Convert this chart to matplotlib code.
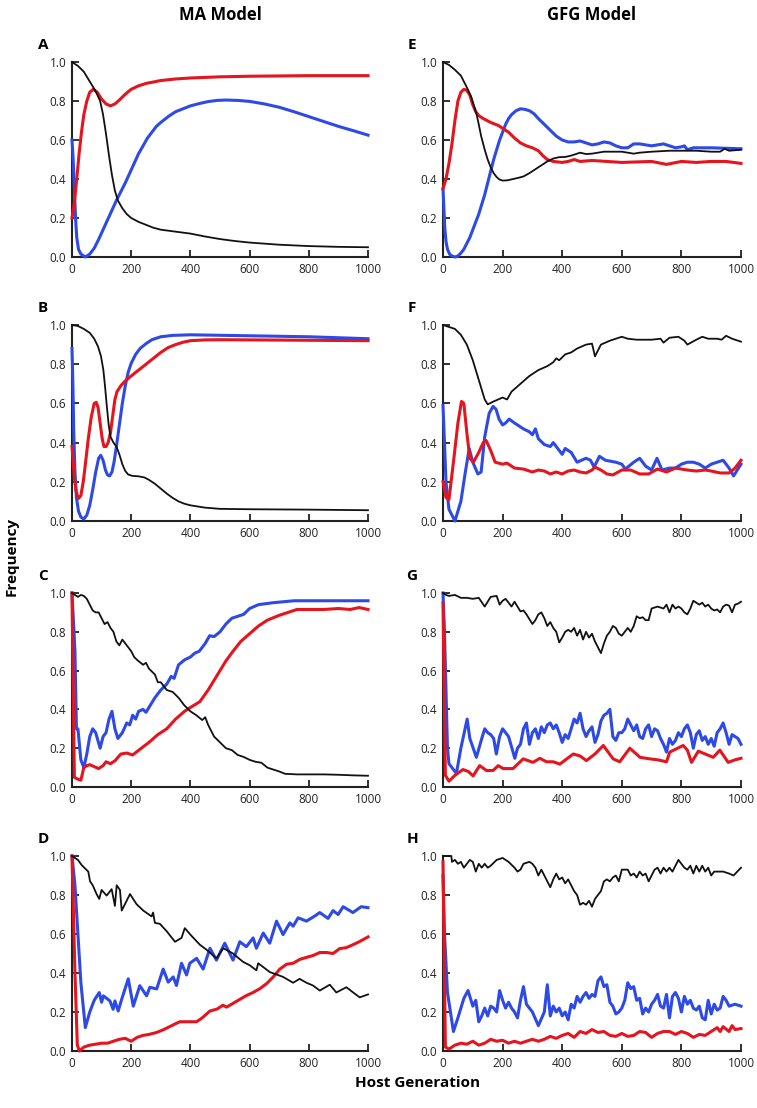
import numpy as np
import matplotlib
matplotlib.use("Agg")
import matplotlib.pyplot as plt

plt.rcParams['font.family'] = ['Open Sans', 'DejaVu Sans']

RED = '#e5141d'
BLUE = '#2e4ae6'
BLACK = '#111111'

# ---- data: (host generation, frequency) ----
# A  MA model
a_black = [(0, 1.0), (20, 0.98), (40, 0.95), (60, 0.9), (80, 0.85), (95, 0.8), (105, 0.73), (115, 0.63),
           (125, 0.52), (135, 0.42), (145, 0.34), (155, 0.29), (170, 0.25), (185, 0.22), (200, 0.2),
           (225, 0.18), (250, 0.165), (275, 0.15), (300, 0.14), (350, 0.13), (400, 0.12), (450, 0.105),
           (500, 0.092), (550, 0.082), (600, 0.074), (700, 0.063), (800, 0.056), (900, 0.052), (1000, 0.05)]
a_red = [(0, 0.2), (8, 0.28), (16, 0.4), (24, 0.53), (32, 0.64), (40, 0.73), (50, 0.8), (60, 0.845),
         (72, 0.86), (85, 0.845), (100, 0.81), (115, 0.785), (130, 0.775), (145, 0.785), (160, 0.805),
         (180, 0.835), (200, 0.86), (225, 0.878), (250, 0.89), (300, 0.905), (350, 0.913), (400, 0.918),
         (500, 0.924), (600, 0.927), (800, 0.93), (1000, 0.93)]
a_blue = [(0, 0.6), (4, 0.5), (8, 0.35), (12, 0.2), (16, 0.1), (22, 0.04), (30, 0.015), (45, 0.0),
          (60, 0.015), (75, 0.045), (90, 0.09), (105, 0.14), (120, 0.19), (135, 0.24), (150, 0.29),
          (165, 0.335), (180, 0.38), (195, 0.43), (210, 0.48), (225, 0.53), (240, 0.57), (255, 0.61),
          (270, 0.64), (285, 0.67), (300, 0.69), (325, 0.72), (350, 0.745), (375, 0.76), (400, 0.775),
          (430, 0.787), (460, 0.797), (490, 0.803), (520, 0.805), (560, 0.803), (600, 0.798), (650, 0.785),
          (700, 0.768), (750, 0.745), (800, 0.72), (850, 0.695), (900, 0.67), (950, 0.648), (1000, 0.625)]

# B  MA model
b_black = [(0, 1.0), (20, 0.995), (40, 0.98), (60, 0.96), (75, 0.93), (88, 0.89), (98, 0.84), (106, 0.77),
           (112, 0.68), (118, 0.58), (124, 0.49), (130, 0.43), (140, 0.4), (150, 0.38), (160, 0.34),
           (170, 0.29), (180, 0.255), (190, 0.237), (205, 0.23), (225, 0.228), (245, 0.222), (260, 0.21),
           (280, 0.19), (300, 0.165), (320, 0.14), (340, 0.118), (360, 0.1), (380, 0.088), (400, 0.08),
           (450, 0.068), (500, 0.062), (600, 0.06), (800, 0.058), (1000, 0.055)]
b_red = [(0, 0.38), (4, 0.3), (8, 0.22), (14, 0.15), (22, 0.115), (30, 0.13), (38, 0.2), (46, 0.3),
         (55, 0.42), (65, 0.53), (75, 0.6), (82, 0.605), (88, 0.58), (95, 0.5), (102, 0.42), (108, 0.38),
         (115, 0.38), (122, 0.4), (130, 0.45), (137, 0.53), (145, 0.62), (152, 0.66), (165, 0.69),
         (180, 0.715), (200, 0.74), (225, 0.77), (250, 0.8), (275, 0.83), (300, 0.86), (325, 0.885),
         (350, 0.9), (375, 0.912), (400, 0.92), (450, 0.924), (500, 0.925), (1000, 0.92)]
b_blue = [(0, 0.88), (3, 0.7), (6, 0.45), (10, 0.25), (15, 0.12), (22, 0.05), (30, 0.02), (40, 0.01),
          (50, 0.03), (60, 0.08), (70, 0.16), (80, 0.25), (90, 0.32), (97, 0.335), (105, 0.31), (113, 0.26),
          (120, 0.235), (127, 0.23), (135, 0.25), (142, 0.3), (150, 0.38), (160, 0.49), (170, 0.6),
          (180, 0.69), (190, 0.76), (200, 0.805), (215, 0.85), (230, 0.88), (250, 0.905), (270, 0.925),
          (300, 0.94), (340, 0.947), (400, 0.95), (600, 0.945), (800, 0.94), (1000, 0.93)]

# C  MA model
c_black = [(0, 1.0), (20, 0.98), (30, 0.99), (40, 0.985), (50, 0.97), (60, 0.94), (70, 0.91), (80, 0.9),
           (90, 0.9), (100, 0.87), (110, 0.84), (120, 0.85), (130, 0.82), (140, 0.8), (150, 0.75),
           (160, 0.73), (170, 0.76), (180, 0.74), (190, 0.72), (200, 0.7), (210, 0.67), (220, 0.655),
           (240, 0.63), (250, 0.64), (260, 0.61), (280, 0.58), (290, 0.54), (300, 0.54), (310, 0.52),
           (320, 0.5), (340, 0.49), (360, 0.46), (380, 0.42), (400, 0.39), (420, 0.37), (440, 0.345),
           (450, 0.36), (460, 0.32), (480, 0.26), (500, 0.23), (520, 0.2), (540, 0.19), (560, 0.165),
           (580, 0.155), (600, 0.14), (620, 0.13), (640, 0.125), (660, 0.1), (680, 0.09), (700, 0.08),
           (720, 0.068), (760, 0.065), (800, 0.065), (850, 0.065), (900, 0.063), (950, 0.06), (1000, 0.058)]
c_red = [(0, 1.0), (8, 0.05), (20, 0.04), (30, 0.035), (40, 0.1), (50, 0.11), (60, 0.115), (75, 0.105),
         (90, 0.095), (105, 0.11), (115, 0.13), (130, 0.12), (145, 0.135), (165, 0.17), (185, 0.175),
         (205, 0.165), (230, 0.195), (260, 0.23), (290, 0.27), (320, 0.3), (350, 0.35), (380, 0.39),
         (400, 0.41), (432, 0.44), (460, 0.5), (488, 0.57), (520, 0.65), (544, 0.7), (570, 0.75),
         (600, 0.79), (630, 0.83), (660, 0.86), (700, 0.885), (740, 0.905), (760, 0.915), (800, 0.915),
         (850, 0.915), (900, 0.92), (940, 0.915), (970, 0.925), (1000, 0.915)]
c_blue = [(0, 1.0), (10, 0.7), (15, 0.3), (20, 0.3), (25, 0.22), (30, 0.14), (40, 0.1), (50, 0.17),
          (60, 0.26), (70, 0.3), (80, 0.28), (95, 0.2), (105, 0.26), (115, 0.28), (125, 0.35), (135, 0.39),
          (145, 0.3), (155, 0.25), (170, 0.28), (185, 0.33), (195, 0.32), (205, 0.37), (215, 0.35),
          (225, 0.39), (240, 0.4), (250, 0.385), (260, 0.41), (280, 0.46), (300, 0.5), (320, 0.53),
          (335, 0.57), (345, 0.56), (360, 0.63), (380, 0.655), (400, 0.67), (415, 0.69), (430, 0.7),
          (450, 0.74), (465, 0.78), (480, 0.775), (500, 0.8), (520, 0.84), (540, 0.87), (560, 0.88),
          (580, 0.89), (600, 0.92), (630, 0.94), (680, 0.95), (750, 0.96), (1000, 0.96)]

# D  MA model
d_black = [(0, 1.0), (10, 0.99), (20, 0.98), (33, 0.953), (45, 0.935), (55, 0.92), (61, 0.87), (70, 0.85),
           (83, 0.805), (92, 0.78), (100, 0.826), (117, 0.797), (134, 0.83), (145, 0.744), (151, 0.85),
           (162, 0.826), (168, 0.72), (196, 0.805), (218, 0.753), (241, 0.72), (269, 0.69), (274, 0.71),
           (280, 0.657), (297, 0.652), (320, 0.614), (348, 0.56), (370, 0.58), (381, 0.63), (404, 0.59),
           (432, 0.545), (454, 0.52), (488, 0.475), (511, 0.527), (544, 0.5), (578, 0.457), (600, 0.44),
           (623, 0.414), (629, 0.45), (668, 0.405), (713, 0.38), (747, 0.35), (769, 0.37), (792, 0.35),
           (814, 0.336), (837, 0.31), (871, 0.34), (893, 0.3), (927, 0.327), (950, 0.3), (972, 0.275),
           (1000, 0.29)]
d_red = [(0, 1.0), (10, 0.4), (18, 0.03), (25, 0.0), (40, 0.02), (60, 0.03), (80, 0.035), (100, 0.04),
         (120, 0.04), (140, 0.05), (160, 0.06), (180, 0.065), (200, 0.05), (220, 0.07), (240, 0.08),
         (260, 0.085), (286, 0.095), (310, 0.11), (330, 0.125), (350, 0.14), (364, 0.15), (400, 0.15),
         (421, 0.15), (440, 0.17), (466, 0.205), (490, 0.215), (510, 0.235), (522, 0.225), (545, 0.245),
         (567, 0.265), (590, 0.285), (612, 0.3), (635, 0.32), (657, 0.345), (680, 0.38), (702, 0.42),
         (725, 0.445), (747, 0.45), (770, 0.47), (792, 0.48), (815, 0.49), (837, 0.505), (860, 0.505),
         (882, 0.5), (904, 0.525), (927, 0.53), (949, 0.545), (970, 0.56), (994, 0.58), (1000, 0.585)]
d_blue = [(0, 1.0), (10, 0.85), (20, 0.6), (30, 0.35), (45, 0.12), (60, 0.2), (75, 0.26), (92, 0.3),
          (100, 0.25), (106, 0.283), (128, 0.257), (139, 0.214), (145, 0.257), (156, 0.205), (168, 0.266),
          (190, 0.37), (207, 0.23), (229, 0.335), (252, 0.283), (263, 0.327), (286, 0.318), (308, 0.42),
          (325, 0.353), (342, 0.38), (353, 0.336), (370, 0.45), (387, 0.39), (398, 0.45), (421, 0.475),
          (443, 0.42), (466, 0.527), (488, 0.466), (516, 0.553), (544, 0.466), (567, 0.56), (589, 0.535),
          (612, 0.58), (623, 0.527), (646, 0.605), (668, 0.553), (691, 0.666), (713, 0.597), (736, 0.657),
          (747, 0.64), (764, 0.683), (792, 0.666), (820, 0.692), (837, 0.71), (865, 0.68), (882, 0.72),
          (899, 0.7), (916, 0.74), (949, 0.71), (977, 0.74), (1000, 0.735)]

# E  GFG model
e_black = [(0, 1.0), (20, 0.985), (40, 0.96), (60, 0.93), (80, 0.87), (95, 0.82), (105, 0.77), (113, 0.73),
           (120, 0.68), (128, 0.62), (140, 0.55), (150, 0.5), (160, 0.46), (170, 0.43), (180, 0.41),
           (190, 0.397), (200, 0.392), (215, 0.393), (230, 0.398), (250, 0.405), (270, 0.413), (290, 0.43),
           (310, 0.45), (330, 0.47), (350, 0.49), (370, 0.505), (390, 0.512), (410, 0.513), (430, 0.52),
           (450, 0.53), (460, 0.535), (480, 0.528), (500, 0.53), (540, 0.54), (600, 0.54), (640, 0.53),
           (660, 0.535), (700, 0.54), (760, 0.545), (800, 0.545), (850, 0.545), (900, 0.54), (930, 0.54),
           (945, 0.555), (960, 0.545), (1000, 0.55)]
e_red = [(0, 0.35), (10, 0.4), (20, 0.48), (30, 0.58), (40, 0.7), (50, 0.8), (60, 0.845), (70, 0.86),
         (80, 0.855), (90, 0.83), (100, 0.78), (110, 0.745), (120, 0.725), (135, 0.71), (160, 0.69),
         (185, 0.675), (200, 0.66), (220, 0.64), (240, 0.61), (260, 0.585), (280, 0.57), (300, 0.56),
         (320, 0.545), (335, 0.52), (350, 0.5), (370, 0.49), (400, 0.485), (420, 0.49), (440, 0.5),
         (460, 0.49), (500, 0.495), (550, 0.49), (600, 0.485), (700, 0.49), (750, 0.475), (800, 0.49),
         (850, 0.485), (900, 0.49), (950, 0.49), (1000, 0.48)]
e_blue = [(0, 0.35), (3, 0.25), (6, 0.15), (10, 0.08), (15, 0.04), (22, 0.015), (30, 0.005), (40, 0.0),
          (50, 0.005), (60, 0.02), (70, 0.04), (80, 0.07), (90, 0.1), (100, 0.14), (110, 0.18), (120, 0.22),
          (130, 0.27), (140, 0.32), (150, 0.38), (160, 0.44), (170, 0.5), (180, 0.55), (190, 0.6),
          (200, 0.64), (210, 0.68), (220, 0.71), (230, 0.73), (245, 0.75), (260, 0.76), (275, 0.757),
          (290, 0.75), (305, 0.735), (320, 0.71), (340, 0.68), (360, 0.65), (380, 0.62), (400, 0.6),
          (420, 0.59), (440, 0.59), (460, 0.595), (480, 0.585), (500, 0.575), (520, 0.58), (540, 0.59),
          (560, 0.585), (580, 0.57), (600, 0.56), (620, 0.56), (640, 0.58), (660, 0.58), (680, 0.575),
          (700, 0.57), (720, 0.575), (740, 0.58), (760, 0.57), (780, 0.56), (800, 0.565), (810, 0.57),
          (820, 0.55), (840, 0.56), (900, 0.56), (1000, 0.555)]

# F  GFG model
f_black = [(0, 1.0), (20, 0.99), (40, 0.98), (60, 0.95), (80, 0.9), (100, 0.82), (120, 0.72), (140, 0.62),
           (150, 0.595), (170, 0.61), (200, 0.63), (215, 0.62), (230, 0.66), (260, 0.7), (290, 0.74),
           (320, 0.77), (350, 0.79), (370, 0.81), (380, 0.83), (390, 0.82), (410, 0.85), (430, 0.86),
           (450, 0.88), (480, 0.9), (500, 0.905), (510, 0.84), (530, 0.9), (560, 0.92), (580, 0.93),
           (600, 0.94), (620, 0.93), (650, 0.925), (700, 0.925), (730, 0.93), (740, 0.91), (760, 0.935),
           (790, 0.94), (810, 0.92), (820, 0.9), (850, 0.925), (870, 0.94), (890, 0.93), (920, 0.93),
           (935, 0.925), (950, 0.945), (970, 0.93), (1000, 0.915)]
f_red = [(0, 0.2), (10, 0.12), (20, 0.11), (35, 0.3), (50, 0.5), (62, 0.61), (70, 0.6), (80, 0.45),
         (90, 0.32), (102, 0.3), (120, 0.35), (135, 0.4), (145, 0.41), (160, 0.36), (175, 0.3), (200, 0.29),
         (215, 0.295), (240, 0.27), (270, 0.265), (300, 0.25), (320, 0.26), (340, 0.255), (360, 0.24),
         (380, 0.25), (400, 0.24), (420, 0.255), (440, 0.26), (460, 0.25), (480, 0.245), (500, 0.26),
         (510, 0.275), (530, 0.26), (550, 0.24), (570, 0.235), (600, 0.26), (630, 0.26), (660, 0.24),
         (690, 0.24), (720, 0.265), (750, 0.25), (780, 0.27), (820, 0.26), (850, 0.255), (880, 0.26),
         (900, 0.255), (930, 0.245), (960, 0.245), (980, 0.27), (1000, 0.31)]
f_blue = [(0, 0.59), (5, 0.4), (10, 0.2), (20, 0.06), (40, 0.0), (60, 0.1), (75, 0.25), (88, 0.37),
          (100, 0.3), (117, 0.24), (128, 0.25), (140, 0.43), (155, 0.55), (168, 0.585), (178, 0.57),
          (188, 0.52), (200, 0.49), (210, 0.5), (222, 0.52), (240, 0.5), (270, 0.47), (290, 0.455),
          (300, 0.44), (310, 0.47), (320, 0.42), (340, 0.39), (360, 0.38), (370, 0.4), (390, 0.36),
          (400, 0.34), (410, 0.37), (430, 0.35), (450, 0.3), (465, 0.31), (480, 0.32), (495, 0.31),
          (507, 0.275), (525, 0.33), (545, 0.31), (580, 0.3), (600, 0.29), (612, 0.265), (640, 0.3),
          (660, 0.32), (680, 0.28), (700, 0.26), (718, 0.32), (735, 0.26), (760, 0.27), (780, 0.27),
          (800, 0.29), (820, 0.3), (840, 0.3), (860, 0.29), (880, 0.27), (900, 0.29), (920, 0.3),
          (940, 0.31), (960, 0.27), (975, 0.23), (1000, 0.29)]

# G  GFG model
g_black = [(0, 1.0), (10, 0.99), (20, 0.985), (40, 0.99), (60, 0.975), (80, 0.975), (100, 0.97),
           (120, 0.975), (140, 0.93), (160, 0.98), (180, 0.985), (190, 0.94), (200, 0.96), (210, 0.97),
           (220, 0.95), (230, 0.93), (240, 0.955), (250, 0.93), (260, 0.905), (270, 0.91), (280, 0.89),
           (300, 0.84), (310, 0.86), (320, 0.89), (330, 0.9), (340, 0.87), (350, 0.83), (360, 0.85),
           (370, 0.82), (380, 0.8), (390, 0.745), (400, 0.77), (410, 0.8), (420, 0.81), (430, 0.8),
           (440, 0.82), (450, 0.78), (460, 0.81), (470, 0.76), (480, 0.8), (490, 0.77), (500, 0.79),
           (510, 0.75), (520, 0.72), (530, 0.69), (540, 0.74), (550, 0.78), (560, 0.8), (570, 0.83),
           (580, 0.82), (590, 0.79), (600, 0.78), (610, 0.8), (620, 0.82), (630, 0.8), (640, 0.83),
           (650, 0.88), (660, 0.87), (670, 0.875), (680, 0.86), (690, 0.86), (700, 0.92), (710, 0.925),
           (720, 0.93), (730, 0.925), (740, 0.92), (750, 0.94), (760, 0.9), (770, 0.94), (780, 0.92),
           (790, 0.93), (800, 0.92), (810, 0.9), (820, 0.89), (830, 0.92), (840, 0.96), (850, 0.95),
           (860, 0.94), (870, 0.95), (880, 0.93), (890, 0.94), (900, 0.92), (910, 0.91), (920, 0.915),
           (930, 0.9), (940, 0.93), (950, 0.94), (960, 0.935), (970, 0.9), (980, 0.94), (990, 0.945),
           (1000, 0.955)]
g_red = [(0, 0.95), (8, 0.06), (20, 0.03), (40, 0.06), (67, 0.09), (85, 0.08), (101, 0.057), (123, 0.11),
         (146, 0.085), (168, 0.085), (185, 0.11), (202, 0.095), (235, 0.095), (269, 0.145), (302, 0.127),
         (325, 0.148), (347, 0.13), (370, 0.13), (392, 0.118), (437, 0.17), (460, 0.16), (481, 0.136),
         (510, 0.17), (538, 0.214), (571, 0.145), (593, 0.13), (627, 0.2), (661, 0.153), (694, 0.145),
         (720, 0.14), (750, 0.13), (761, 0.18), (806, 0.214), (820, 0.19), (834, 0.127), (857, 0.185),
         (880, 0.17), (907, 0.153), (929, 0.19), (957, 0.127), (980, 0.14), (1000, 0.148)]
g_blue = [(0, 1.0), (5, 0.8), (10, 0.5), (15, 0.2), (20, 0.12), (30, 0.1), (45, 0.07), (60, 0.2),
          (81, 0.35), (90, 0.25), (112, 0.153), (130, 0.25), (140, 0.3), (150, 0.28), (160, 0.27),
          (170, 0.25), (179, 0.17), (190, 0.26), (200, 0.3), (210, 0.28), (220, 0.26), (241, 0.148),
          (250, 0.2), (260, 0.22), (270, 0.3), (280, 0.33), (290, 0.22), (300, 0.28), (310, 0.3),
          (320, 0.25), (330, 0.31), (340, 0.28), (350, 0.32), (360, 0.33), (370, 0.3), (380, 0.32),
          (390, 0.28), (400, 0.23), (410, 0.27), (420, 0.25), (430, 0.3), (440, 0.35), (450, 0.33),
          (460, 0.38), (470, 0.3), (480, 0.26), (490, 0.29), (500, 0.31), (510, 0.23), (520, 0.27),
          (530, 0.34), (540, 0.37), (550, 0.38), (560, 0.4), (570, 0.26), (580, 0.24), (590, 0.28),
          (600, 0.28), (610, 0.3), (620, 0.35), (630, 0.32), (640, 0.29), (650, 0.32), (660, 0.26),
          (670, 0.25), (680, 0.3), (690, 0.32), (700, 0.26), (710, 0.3), (720, 0.29), (730, 0.25),
          (740, 0.22), (750, 0.18), (760, 0.25), (770, 0.22), (780, 0.24), (790, 0.28), (800, 0.26),
          (810, 0.3), (820, 0.32), (830, 0.28), (840, 0.2), (850, 0.27), (860, 0.29), (870, 0.24),
          (880, 0.26), (890, 0.22), (900, 0.25), (910, 0.21), (920, 0.28), (930, 0.3), (940, 0.33),
          (950, 0.28), (960, 0.22), (970, 0.27), (980, 0.26), (990, 0.25), (1000, 0.22)]

# H  GFG model
h_black = [(0, 1.0), (28, 1.0), (30, 0.97), (40, 0.98), (50, 0.96), (60, 0.97), (70, 0.94), (80, 0.96),
           (90, 0.98), (100, 0.97), (110, 0.92), (120, 0.96), (130, 0.94), (140, 0.96), (150, 0.94),
           (160, 0.95), (180, 0.98), (200, 0.99), (220, 0.97), (240, 0.94), (250, 0.92), (260, 0.93),
           (270, 0.96), (290, 0.97), (300, 0.96), (310, 0.94), (320, 0.9), (330, 0.93), (340, 0.9),
           (350, 0.87), (360, 0.84), (370, 0.88), (380, 0.91), (390, 0.88), (400, 0.89), (410, 0.86),
           (420, 0.88), (430, 0.85), (440, 0.82), (450, 0.8), (460, 0.75), (470, 0.76), (480, 0.75),
           (490, 0.77), (500, 0.74), (510, 0.78), (520, 0.8), (530, 0.82), (540, 0.87), (550, 0.88),
           (560, 0.87), (570, 0.89), (580, 0.9), (590, 0.87), (600, 0.93), (620, 0.93), (630, 0.9),
           (640, 0.91), (650, 0.89), (660, 0.92), (670, 0.9), (680, 0.91), (690, 0.87), (700, 0.9),
           (710, 0.93), (720, 0.94), (730, 0.91), (740, 0.94), (750, 0.92), (760, 0.94), (770, 0.92),
           (780, 0.95), (790, 0.98), (800, 0.96), (810, 0.94), (820, 0.93), (830, 0.95), (840, 0.91),
           (850, 0.95), (860, 0.92), (870, 0.95), (880, 0.92), (890, 0.94), (900, 0.9), (910, 0.92),
           (940, 0.92), (960, 0.91), (975, 0.9), (1000, 0.94)]
h_red = [(0, 0.97), (8, 0.02), (20, 0.01), (40, 0.03), (60, 0.04), (80, 0.035), (100, 0.05), (120, 0.03),
         (140, 0.04), (160, 0.06), (180, 0.05), (200, 0.055), (220, 0.04), (240, 0.05), (260, 0.04),
         (280, 0.05), (300, 0.06), (320, 0.05), (340, 0.06), (360, 0.075), (380, 0.065), (400, 0.08),
         (420, 0.09), (440, 0.07), (460, 0.1), (480, 0.09), (500, 0.11), (520, 0.095), (540, 0.1),
         (560, 0.08), (580, 0.075), (600, 0.09), (620, 0.075), (640, 0.08), (660, 0.1), (680, 0.095),
         (700, 0.07), (720, 0.09), (740, 0.1), (760, 0.1), (780, 0.085), (800, 0.1), (820, 0.09),
         (840, 0.07), (860, 0.085), (880, 0.08), (900, 0.1), (920, 0.12), (930, 0.1), (940, 0.125),
         (960, 0.1), (970, 0.13), (980, 0.11), (1000, 0.115)]
h_blue = [(0, 0.9), (5, 0.6), (15, 0.3), (25, 0.2), (35, 0.1), (50, 0.17), (70, 0.27), (84, 0.31),
          (100, 0.23), (110, 0.26), (120, 0.15), (130, 0.18), (140, 0.22), (150, 0.18), (160, 0.23),
          (170, 0.22), (180, 0.2), (190, 0.31), (200, 0.26), (210, 0.22), (220, 0.25), (230, 0.22),
          (240, 0.2), (250, 0.17), (260, 0.26), (270, 0.33), (280, 0.24), (300, 0.2), (320, 0.13),
          (340, 0.2), (350, 0.34), (360, 0.18), (370, 0.23), (380, 0.2), (390, 0.22), (400, 0.18),
          (410, 0.2), (420, 0.16), (430, 0.24), (440, 0.22), (450, 0.28), (460, 0.25), (470, 0.28),
          (480, 0.3), (490, 0.27), (500, 0.29), (510, 0.28), (520, 0.36), (530, 0.38), (540, 0.33),
          (550, 0.34), (560, 0.25), (570, 0.23), (580, 0.19), (590, 0.2), (600, 0.22), (610, 0.26),
          (620, 0.35), (630, 0.32), (640, 0.33), (650, 0.26), (660, 0.27), (670, 0.19), (680, 0.22),
          (690, 0.2), (700, 0.24), (710, 0.26), (720, 0.29), (730, 0.23), (740, 0.22), (750, 0.29),
          (760, 0.17), (770, 0.28), (780, 0.3), (790, 0.27), (800, 0.2), (810, 0.28), (820, 0.24),
          (830, 0.26), (840, 0.22), (850, 0.21), (860, 0.23), (870, 0.17), (880, 0.16), (890, 0.26),
          (900, 0.19), (910, 0.24), (920, 0.21), (930, 0.22), (940, 0.28), (950, 0.26), (960, 0.23),
          (980, 0.24), (1000, 0.23)]

panels = {
    'A': (a_black, a_red, a_blue), 'B': (b_black, b_red, b_blue),
    'C': (c_black, c_red, c_blue), 'D': (d_black, d_red, d_blue),
    'E': (e_black, e_red, e_blue), 'F': (f_black, f_red, f_blue),
    'G': (g_black, g_red, g_blue), 'H': (h_black, h_red, h_blue),
}
xticks = [0, 200, 400, 600, 800, 1000]
yticks = [0.0, 0.2, 0.4, 0.6, 0.8, 1.0]

# ---- layout (pixel positions of axes) ----
W, H = 757, 1108
fig = plt.figure(figsize=(W / 100, H / 100), dpi=100)

col_x = {0: (72, 368), 1: (443, 741)}
row_y = [(62, 257), (325, 521), (593, 787), (856, 1051)]
letters = [['A', 'B', 'C', 'D'], ['E', 'F', 'G', 'H']]
label_x = {0: 43, 1: 412}


def draw(ax, black, red, blue):
    for series, col, lw in ((blue, BLUE, 2.2), (red, RED, 2.2), (black, BLACK, 1.3)):
        x, y = zip(*series)
        ax.plot(x, y, color=col, lw=lw, solid_joinstyle='round', clip_on=False, zorder=3)
    ax.set_xlim(0, 1000)
    ax.set_ylim(0, 1.0)
    ax.set_xticks(xticks)
    ax.set_yticks(yticks)
    ax.set_yticklabels(['%.1f' % v for v in yticks])
    for s in ('top', 'right'):
        ax.spines[s].set_visible(False)
    for s in ('left', 'bottom'):
        ax.spines[s].set_linewidth(1.5)
        ax.spines[s].set_color('#222222')
    ax.tick_params(direction='in', length=5, width=1.3, labelsize=8.5, pad=4, colors='#222222')


for c in range(2):
    x0, x1 = col_x[c]
    for r in range(4):
        y0, y1 = row_y[r]
        ax = fig.add_axes([x0 / W, 1 - y1 / H, (x1 - x0) / W, (y1 - y0) / H])
        key = letters[c][r]
        draw(ax, *panels[key])
        fig.text(label_x[c] / W, 1 - (y0 - 17) / H, key, fontsize=11, fontweight='bold',
                 ha='center', va='center')

fig.text(220 / W, 1 - 15 / H, 'MA Model', fontsize=12, fontweight='bold', ha='center', va='center')
fig.text(592 / W, 1 - 15 / H, 'GFG Model', fontsize=12, fontweight='bold', ha='center', va='center')
fig.text(12 / W, 1 - 557 / H, 'Frequency', fontsize=11, fontweight='bold', rotation=90,
         ha='center', va='center')
fig.text(418 / W, 1 - 1083 / H, 'Host Generation', fontsize=11, fontweight='bold',
         ha='center', va='center')

fig.savefig('out.png', dpi=100)
